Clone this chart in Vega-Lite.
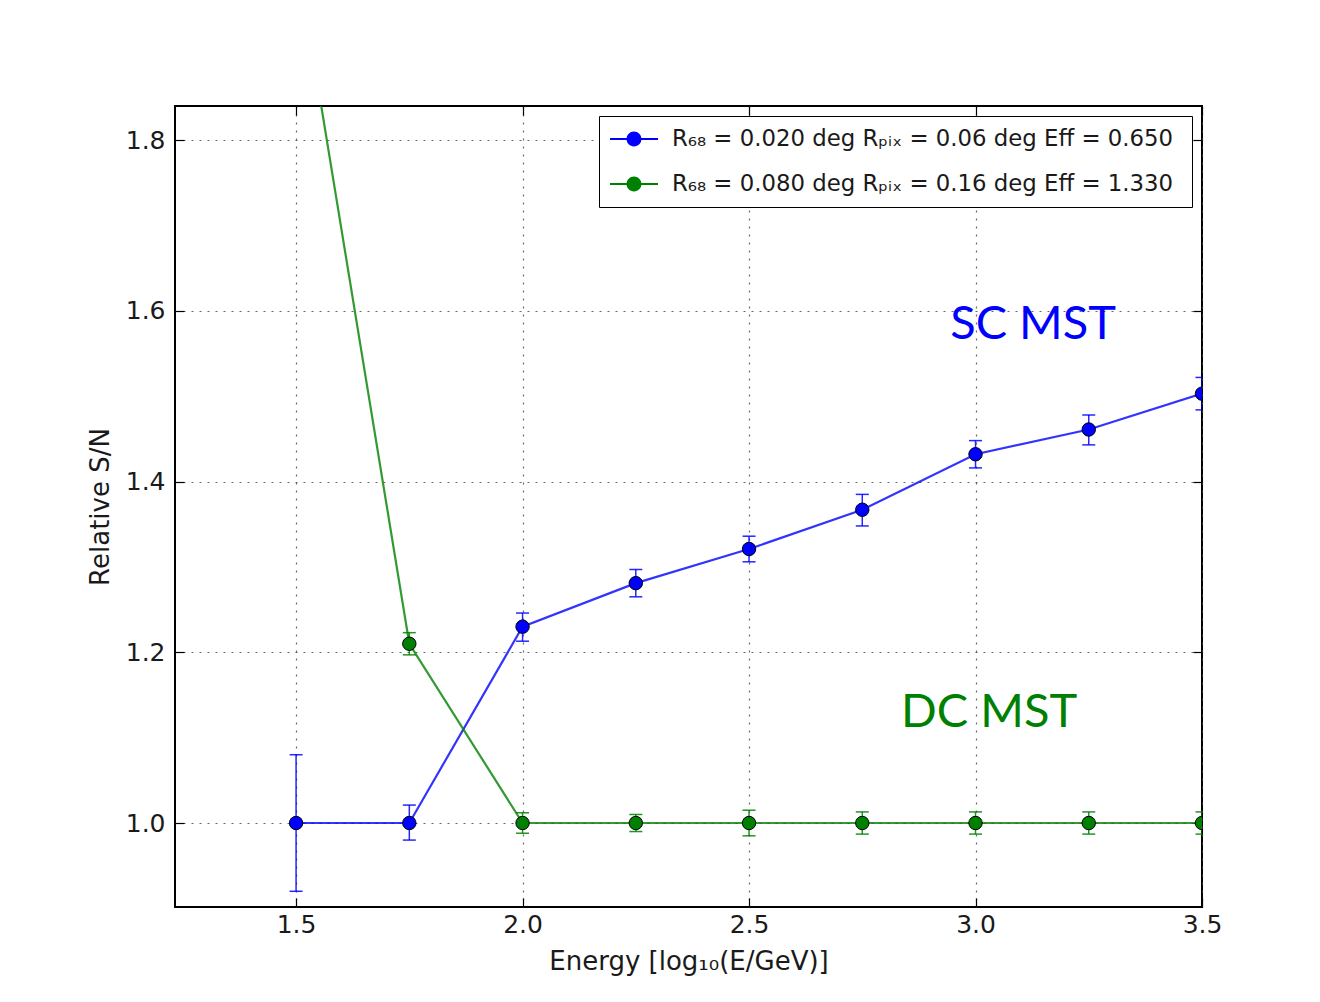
{
  "$schema": "https://vega.github.io/schema/vega-lite/v6.json",
  "width": 1027,
  "height": 801,
  "autosize": "none",
  "padding": {"left": 175, "top": 106, "right": 118, "bottom": 95},
  "background": "white",
  "config": {
    "view": {"stroke": "black", "strokeWidth": 2},
    "axis": {
      "labelFont": "DejaVu Sans", "labelFontSize": 25, "labelColor": "#1a1a1a", "labelFlush": false, "labelOverlap": false,
      "titleFont": "DejaVu Sans", "titleFontSize": 26, "titleFontWeight": "normal", "titleColor": "#1a1a1a",
      "domain": false, "tickColor": "black", "tickSize": -9, "tickWidth": 1.2,
      "gridColor": "#444", "gridDash": [2, 6], "gridWidth": 1.2, "gridOpacity": 0.8
    },
    "legend": {
      "orient": "top-right", "offset": 10, "padding": 11, "rowPadding": 21,
      "strokeColor": "black", "fillColor": "white",
      "labelFont": "DejaVu Sans", "labelFontSize": 22.8, "labelColor": "#1a1a1a", "labelLimit": 0, "labelOffset": 26,
      "symbolType": "M-2,-0.08H-0.6V0.08H-2Z M0.6,-0.08H2V0.08H0.6Z M0.62,0A0.62,0.62 0 1 1 -0.62,0A0.62,0.62 0 1 1 0.62,0Z",
      "symbolSize": 576, "symbolOffset": 12, "symbolStrokeWidth": 0, "symbolOpacity": 1
    }
  },
  "datasets": {
    "pts": [
      {"series": "R₆₈ = 0.020 deg Rₚᵢₓ =  0.06 deg Eff = 0.650", "x": 1.5, "y": 1.0, "lo": 0.92, "hi": 1.08},
      {"series": "R₆₈ = 0.020 deg Rₚᵢₓ =  0.06 deg Eff = 0.650", "x": 1.75, "y": 1.0, "lo": 0.98, "hi": 1.021},
      {"series": "R₆₈ = 0.020 deg Rₚᵢₓ =  0.06 deg Eff = 0.650", "x": 2.0, "y": 1.23, "lo": 1.213, "hi": 1.246},
      {"series": "R₆₈ = 0.020 deg Rₚᵢₓ =  0.06 deg Eff = 0.650", "x": 2.25, "y": 1.281, "lo": 1.265, "hi": 1.297},
      {"series": "R₆₈ = 0.020 deg Rₚᵢₓ =  0.06 deg Eff = 0.650", "x": 2.5, "y": 1.321, "lo": 1.306, "hi": 1.336},
      {"series": "R₆₈ = 0.020 deg Rₚᵢₓ =  0.06 deg Eff = 0.650", "x": 2.75, "y": 1.367, "lo": 1.348, "hi": 1.385},
      {"series": "R₆₈ = 0.020 deg Rₚᵢₓ =  0.06 deg Eff = 0.650", "x": 3.0, "y": 1.432, "lo": 1.416, "hi": 1.448},
      {"series": "R₆₈ = 0.020 deg Rₚᵢₓ =  0.06 deg Eff = 0.650", "x": 3.25, "y": 1.461, "lo": 1.443, "hi": 1.478},
      {"series": "R₆₈ = 0.020 deg Rₚᵢₓ =  0.06 deg Eff = 0.650", "x": 3.5, "y": 1.503, "lo": 1.484, "hi": 1.522},
      {"series": "R₆₈ = 0.080 deg Rₚᵢₓ =  0.16 deg Eff = 1.330", "x": 1.5, "y": 2.02, "lo": null, "hi": null},
      {"series": "R₆₈ = 0.080 deg Rₚᵢₓ =  0.16 deg Eff = 1.330", "x": 1.75, "y": 1.21, "lo": 1.197, "hi": 1.223},
      {"series": "R₆₈ = 0.080 deg Rₚᵢₓ =  0.16 deg Eff = 1.330", "x": 2.0, "y": 1.0, "lo": 0.988, "hi": 1.012},
      {"series": "R₆₈ = 0.080 deg Rₚᵢₓ =  0.16 deg Eff = 1.330", "x": 2.25, "y": 1.0, "lo": 0.99, "hi": 1.01},
      {"series": "R₆₈ = 0.080 deg Rₚᵢₓ =  0.16 deg Eff = 1.330", "x": 2.5, "y": 1.0, "lo": 0.985, "hi": 1.015},
      {"series": "R₆₈ = 0.080 deg Rₚᵢₓ =  0.16 deg Eff = 1.330", "x": 2.75, "y": 1.0, "lo": 0.987, "hi": 1.013},
      {"series": "R₆₈ = 0.080 deg Rₚᵢₓ =  0.16 deg Eff = 1.330", "x": 3.0, "y": 1.0, "lo": 0.987, "hi": 1.013},
      {"series": "R₆₈ = 0.080 deg Rₚᵢₓ =  0.16 deg Eff = 1.330", "x": 3.25, "y": 1.0, "lo": 0.987, "hi": 1.013},
      {"series": "R₆₈ = 0.080 deg Rₚᵢₓ =  0.16 deg Eff = 1.330", "x": 3.5, "y": 1.0, "lo": 0.987, "hi": 1.013}
    ],
    "notes": [
      {"label": "SC MST", "x": 3.127, "y": 1.583, "c": "blue"},
      {"label": "DC MST", "x": 3.03, "y": 1.129, "c": "green"}
    ]
  },
  "resolve": {"axis": {"x": "independent", "y": "independent"}},
  "layer": [
    {
      "data": {"name": "pts"},
      "layer": [
        {
          "mark": {"type": "rule", "strokeWidth": 1.5, "opacity": 0.85, "clip": true},
          "encoding": {
            "x": {"field": "x", "type": "quantitative",
              "scale": {"domain": [1.2327, 3.5], "nice": false, "zero": false},
              "axis": {"values": [1.5, 2.0, 2.5, 3.0, 3.5], "format": ".1f", "title": "Energy [log₁₀(E/GeV)]", "labelPadding": 14, "titlePadding": 11, "grid": true}},
            "y": {"field": "lo", "type": "quantitative",
              "scale": {"domain": [0.9016, 1.84], "nice": false, "zero": false},
              "axis": {"values": [1.0, 1.2, 1.4, 1.6, 1.8], "format": ".1f", "title": "Relative S/N", "labelPadding": 19, "titlePadding": 12, "grid": true}},
            "y2": {"field": "hi"},
            "color": {"field": "series", "type": "nominal", "legend": null,
              "scale": {"domain": ["R₆₈ = 0.020 deg Rₚᵢₓ =  0.06 deg Eff = 0.650", "R₆₈ = 0.080 deg Rₚᵢₓ =  0.16 deg Eff = 1.330"], "range": ["#0000ff", "#008000"]}}
          }
        },
        {
          "mark": {"type": "tick", "orient": "horizontal", "size": 13, "thickness": 1.5, "opacity": 0.85, "clip": true},
          "encoding": {
            "x": {"field": "x", "type": "quantitative",
              "axis": {"values": [1.5, 2.0, 2.5, 3.0, 3.5], "format": ".1f", "title": "Energy [log₁₀(E/GeV)]", "labelPadding": 14, "titlePadding": 11, "grid": true}},
            "y": {"field": "lo", "type": "quantitative",
              "axis": {"values": [1.0, 1.2, 1.4, 1.6, 1.8], "format": ".1f", "title": "Relative S/N", "labelPadding": 19, "titlePadding": 12, "grid": true}},
            "color": {"field": "series", "type": "nominal", "legend": null}
          }
        },
        {
          "mark": {"type": "tick", "orient": "horizontal", "size": 13, "thickness": 1.5, "opacity": 0.85, "clip": true},
          "encoding": {
            "x": {"field": "x", "type": "quantitative",
              "axis": {"values": [1.5, 2.0, 2.5, 3.0, 3.5], "format": ".1f", "title": "Energy [log₁₀(E/GeV)]", "labelPadding": 14, "titlePadding": 11, "grid": true}},
            "y": {"field": "hi", "type": "quantitative",
              "axis": {"values": [1.0, 1.2, 1.4, 1.6, 1.8], "format": ".1f", "title": "Relative S/N", "labelPadding": 19, "titlePadding": 12, "grid": true}},
            "color": {"field": "series", "type": "nominal", "legend": null}
          }
        },
        {
          "mark": {"type": "line", "strokeWidth": 2.2, "opacity": 0.8, "clip": true},
          "encoding": {
            "x": {"field": "x", "type": "quantitative",
              "axis": {"values": [1.5, 2.0, 2.5, 3.0, 3.5], "format": ".1f", "title": "Energy [log₁₀(E/GeV)]", "labelPadding": 14, "titlePadding": 11, "grid": true}},
            "y": {"field": "y", "type": "quantitative",
              "axis": {"values": [1.0, 1.2, 1.4, 1.6, 1.8], "format": ".1f", "title": "Relative S/N", "labelPadding": 19, "titlePadding": 12, "grid": true}},
            "color": {"field": "series", "type": "nominal", "legend": null}
          }
        },
        {
          "mark": {"type": "point", "filled": true, "size": 180, "opacity": 1, "stroke": "black", "strokeWidth": 1, "clip": true},
          "encoding": {
            "x": {"field": "x", "type": "quantitative",
              "axis": {"values": [1.5, 2.0, 2.5, 3.0, 3.5], "format": ".1f", "title": "Energy [log₁₀(E/GeV)]", "labelPadding": 14, "titlePadding": 11, "grid": true}},
            "y": {"field": "y", "type": "quantitative",
              "axis": {"values": [1.0, 1.2, 1.4, 1.6, 1.8], "format": ".1f", "title": "Relative S/N", "labelPadding": 19, "titlePadding": 12, "grid": true}},
            "fill": {"field": "series", "type": "nominal",
              "scale": {"domain": ["R₆₈ = 0.020 deg Rₚᵢₓ =  0.06 deg Eff = 0.650", "R₆₈ = 0.080 deg Rₚᵢₓ =  0.16 deg Eff = 1.330"], "range": ["#0000ff", "#008000"]},
              "legend": {"title": null}}
          }
        }
      ]
    },
    {
      "data": {"name": "notes"},
      "mark": {"type": "text", "font": "Lato", "fontSize": 47, "align": "center", "baseline": "middle"},
      "encoding": {
        "x": {"field": "x", "type": "quantitative",
          "axis": {"orient": "top", "values": [1.5, 2.0, 2.5, 3.0, 3.5], "labels": false, "grid": false, "title": null}},
        "y": {"field": "y", "type": "quantitative",
          "axis": {"orient": "right", "values": [1.0, 1.2, 1.4, 1.6, 1.8], "labels": false, "grid": false, "title": null}},
        "text": {"field": "label"},
        "color": {"field": "c", "type": "nominal", "scale": {"domain": ["blue", "green"], "range": ["#0000ff", "#008000"]}, "legend": null}
      }
    }
  ]
}
